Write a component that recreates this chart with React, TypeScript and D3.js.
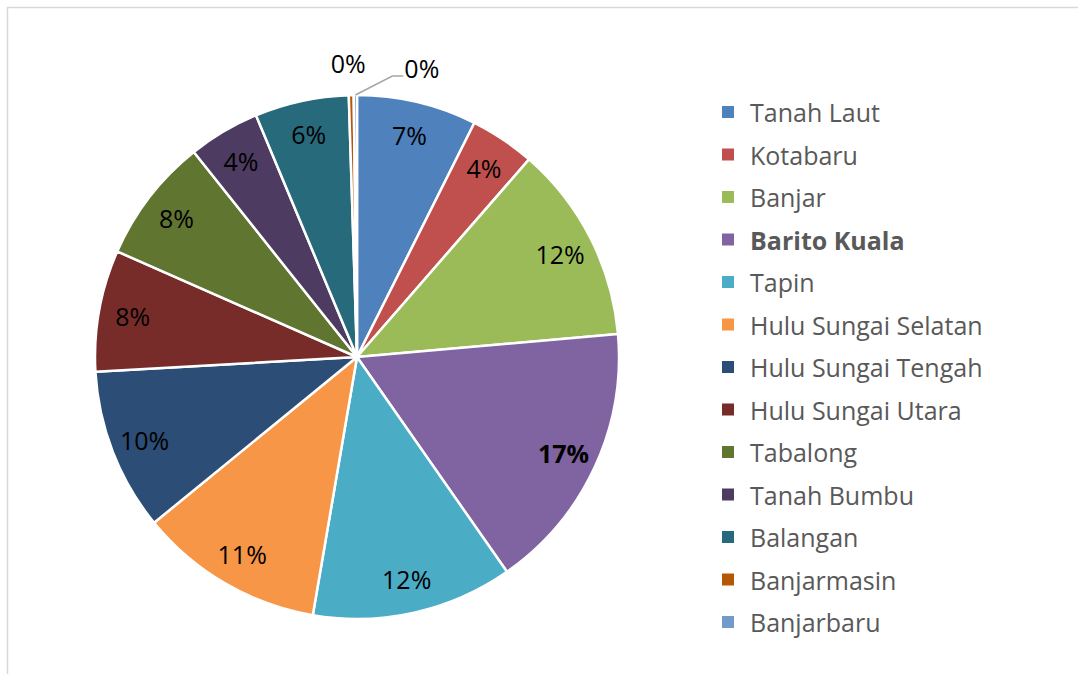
import * as d3 from 'd3';
import React, { useMemo } from 'react';

const regions = [
    'Tanah Laut',
    'Kotabaru',
    'Banjar',
    'Barito Kuala',
    'Tapin',
    'Hulu Sungai Selatan',
    'Hulu Sungai Tengah',
    'Hulu Sungai Utara',
    'Tabalong',
    'Tanah Bumbu',
    'Balangan',
    'Banjarmasin',
    'Banjarbaru',
];

const shares = [7.4, 4.0, 12.2, 16.7, 12.4, 11.4, 10.0, 7.5, 7.7, 4.4, 5.8, 0.3, 0.2];

const colors = [
    '#4f81bd', '#c0504d', '#9bbb59', '#8064a2', '#4bacc6', '#f79646',
    '#2c4d75', '#772c2a', '#5f7530', '#4d3b62', '#276a7c', '#b65708', '#729aca',
];

const highlighted = 'Barito Kuala';

type Slice = { name: string; value: number; color: string };

export default function App() {
    const W = 1078;
    const H = 674;
    const cx = 357;
    const cy = 357;
    const R = 262;
    const FONT = '"Open Sans", sans-serif';

    const data: Slice[] = useMemo(
        () => regions.map((name, i) => ({ name, value: shares[i], color: colors[i] })),
        []
    );

    const arcs = useMemo(
        () => d3.pie<Slice>().sort(null).value((d) => d.value)(data),
        [data]
    );

    const total = d3.sum(shares);
    const arc = d3.arc<d3.PieArcDatum<Slice>>().innerRadius(0).outerRadius(R);
    const labelArc = d3.arc<d3.PieArcDatum<Slice>>().innerRadius(R * 0.87).outerRadius(R * 0.87);
    const pct = (v: number) => `${Math.round((v / total) * 100)}%`;

    const legendY = d3.scalePoint<string>().domain(regions).range([112, 622]);

    return (
        <div style={{ position: 'absolute', left: 0, top: 0 }}>
            <svg width={W} height={H} style={{ display: 'block', fontFamily: FONT }}>
                <rect x={0} y={0} width={W} height={H} fill="#fff" />
                <rect x={7.5} y={7.5} width={W + 20} height={H + 20} fill="none" stroke="#d9d9d9" strokeWidth={1.5} />

                <g transform={`translate(${cx},${cy})`}>
                    {arcs.map((a) => (
                        <path key={a.data.name} d={arc(a) ?? ''} fill={a.data.color} stroke="#fff" strokeWidth={2.5} strokeLinejoin="round" />
                    ))}

                    {arcs.map((a, i) => {
                        const small = a.data.value / total < 0.01;
                        const bold = a.data.name === highlighted;
                        if (!small) {
                            const [lx, ly] = labelArc.centroid(a);
                            return (
                                <text key={`l-${i}`} x={lx} y={ly} textAnchor="middle" dominantBaseline="central"
                                    fontSize={25} fontWeight={bold ? 700 : 400} fill="#000">
                                    {pct(a.data.value)}
                                </text>
                            );
                        }
                        // tiny slices: outside labels, the last one with a leader line
                        const mid = (a.startAngle + a.endAngle) / 2;
                        const px = Math.sin(mid) * R;
                        const py = -Math.cos(mid) * R;
                        if (i === arcs.length - 1) {
                            const ex = px + 37;
                            const ey = py - 19;
                            return (
                                <g key={`l-${i}`}>
                                    <polyline points={`${px},${py} ${ex},${ey} ${ex + 11},${ey}`} fill="none" stroke="#a6a6a6" strokeWidth={1.5} />
                                    <text x={ex + 12} y={ey - 8} dominantBaseline="central" fontSize={25} fill="#000">
                                        {pct(a.data.value)}
                                    </text>
                                </g>
                            );
                        }
                        return (
                            <text key={`l-${i}`} x={px - 3} y={py - 32} textAnchor="middle" dominantBaseline="central" fontSize={25} fill="#000">
                                {pct(a.data.value)}
                            </text>
                        );
                    })}
                </g>

                <g>
                    {data.map((d) => {
                        const y = legendY(d.name) ?? 0;
                        return (
                            <g key={`lg-${d.name}`} transform={`translate(722,${y})`}>
                                <rect x={0} y={-6} width={12} height={12} fill={d.color} />
                                <text x={28} y={0} dominantBaseline="central" fontSize={25}
                                    fontWeight={d.name === highlighted ? 700 : 400} fill="#595959">
                                    {d.name}
                                </text>
                            </g>
                        );
                    })}
                </g>
            </svg>
        </div>
    );
}
